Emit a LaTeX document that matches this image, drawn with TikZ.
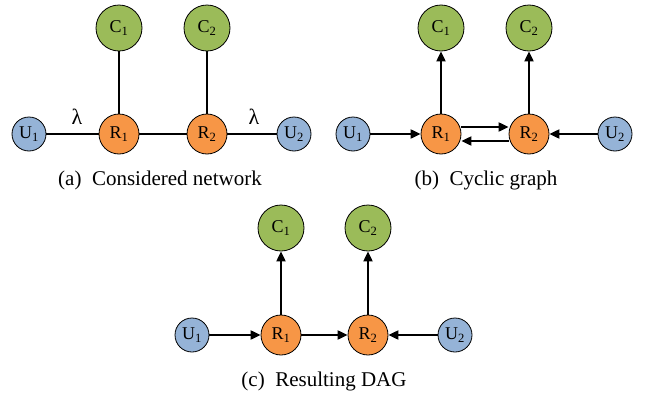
\documentclass[tikz,border=0pt]{standalone}
\usepackage{fontspec}
\setmainfont{Liberation Serif}
\newfontfamily\timesfont{Liberation Serif}
\usetikzlibrary{arrows.meta}
\definecolor{cgreen}{HTML}{9BBB59}
\definecolor{corange}{HTML}{F79646}
\definecolor{cblue}{HTML}{95B3D7}
\begin{document}
\begin{tikzpicture}[x=1pt,y=-1pt,
  nodebase/.style={circle,draw=black,line width=0.8pt,inner sep=0pt,font=\timesfont\fontsize{18}{18}\selectfont},
  unode/.style={nodebase,fill=cblue,minimum size=34pt},
  rnode/.style={nodebase,fill=corange,minimum size=40pt},
  cnode/.style={nodebase,fill=cgreen,minimum size=46pt},
  edge/.style={line width=2pt},
  arr/.style={line width=2pt,-{Triangle[length=10pt,width=9pt]}},
  caption/.style={font=\timesfont\fontsize{21}{21}\selectfont},
  lam/.style={font=\timesfont\fontsize{22}{22}\selectfont}]
\useasboundingbox (0,0) rectangle (646,399);
% (a)
\node[unode] (aU1) at (29,134) {U\textsubscript{1}};
\node[rnode] (aR1) at (119,134) {R\textsubscript{1}};
\node[cnode] (aC1) at (119,28) {C\textsubscript{1}};
\node[rnode] (aR2) at (207,134) {R\textsubscript{2}};
\node[cnode] (aC2) at (207,28) {C\textsubscript{2}};
\node[unode] (aU2) at (294,134) {U\textsubscript{2}};
\draw[edge] (aU1) -- (aR1);
\draw[edge] (aR1) -- (aR2);
\draw[edge] (aR2) -- (aU2);
\draw[edge] (aR1) -- (aC1);
\draw[edge] (aR2) -- (aC2);
\node[lam] (l1) at (77,117) {λ};
\node[lam] (l2) at (254,117) {λ};
\node[caption] (capa) at (160,180) {(a)\hspace{0.5em}Considered network};
% (b)
\node[unode] (bU1) at (353,134) {U\textsubscript{1}};
\node[rnode] (bR1) at (441,134) {R\textsubscript{1}};
\node[cnode] (bC1) at (441,28) {C\textsubscript{1}};
\node[rnode] (bR2) at (529,134) {R\textsubscript{2}};
\node[cnode] (bC2) at (529,28) {C\textsubscript{2}};
\node[unode] (bU2) at (615,134) {U\textsubscript{2}};
\draw[arr] (bU1) -- (bR1);
\draw[arr] (bU2) -- (bR2);
\draw[arr] (bR1) -- (bC1);
\draw[arr] (bR2) -- (bC2);
\draw[arr] ([yshift=7pt]bR1.east) -- ([yshift=7pt]bR2.west);
\draw[arr] ([yshift=-7pt]bR2.west) -- ([yshift=-7pt]bR1.east);
\node[caption] (capb) at (486,180) {(b)\hspace{0.5em}Cyclic graph};
% (c)
\node[unode] (cU1) at (192,335) {U\textsubscript{1}};
\node[rnode] (cR1) at (281,335) {R\textsubscript{1}};
\node[cnode] (cC1) at (281,228) {C\textsubscript{1}};
\node[rnode] (cR2) at (368,335) {R\textsubscript{2}};
\node[cnode] (cC2) at (368,228) {C\textsubscript{2}};
\node[unode] (cU2) at (455,335) {U\textsubscript{2}};
\draw[arr] (cU1) -- (cR1);
\draw[arr] (cU2) -- (cR2);
\draw[arr] (cR1) -- (cR2);
\draw[arr] (cR1) -- (cC1);
\draw[arr] (cR2) -- (cC2);
\node[caption] (capc) at (324,381) {(c)\hspace{0.5em}Resulting DAG};
\end{tikzpicture}
\end{document}
